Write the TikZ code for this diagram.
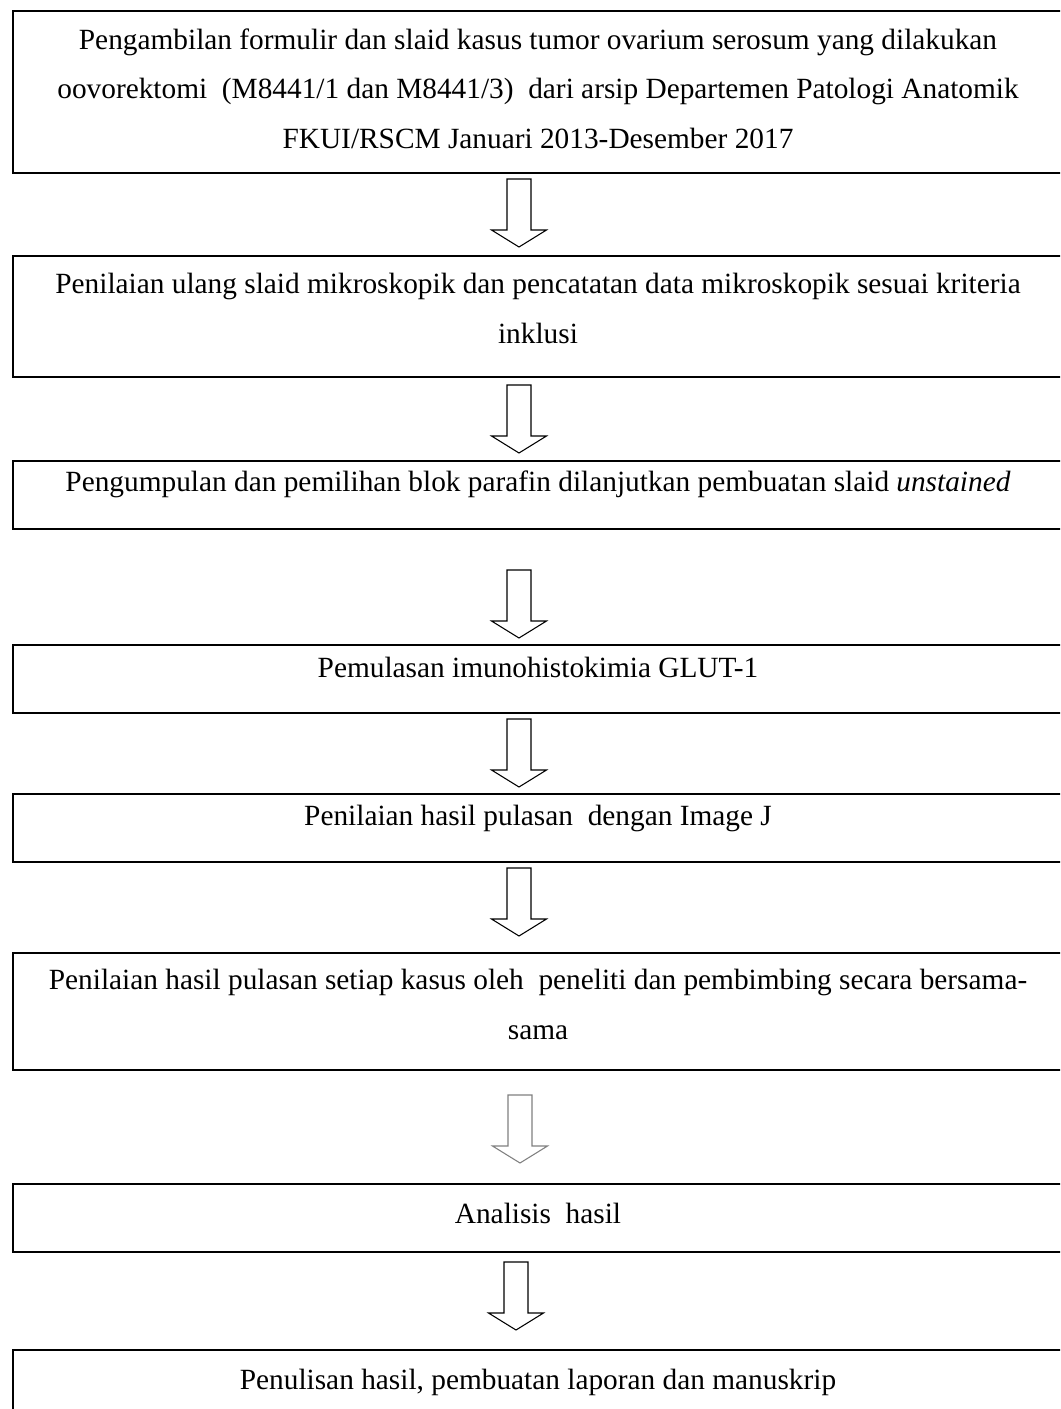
\documentclass[tikz,border=0pt]{standalone}
\usepackage{fontspec}
\setmainfont{Liberation Serif}
\begin{document}
\begin{tikzpicture}[x=0.75pt,y=-0.75pt,
  stepbox/.style={draw=black,line width=1.3pt,rectangle,inner sep=0pt,anchor=north west},
  steptext/.style={anchor=base,inner sep=0pt,font=\fontsize{22}{36}\selectfont},
  blockarrow/.style={draw=black,line width=0.8pt,fill=white}]
\useasboundingbox (0,0) rectangle (1060,1409);
\begin{scope}
\clip (0,0) rectangle (1060,1409);
% boxes
\node[stepbox,minimum width=1062*0.75pt,minimum height=162*0.75pt] (b1) at (12,10) {};
\node[stepbox,minimum width=1062*0.75pt,minimum height=121*0.75pt] (b2) at (12,255) {};
\node[stepbox,minimum width=1062*0.75pt,minimum height=68*0.75pt] (b3) at (12,460) {};
\node[stepbox,minimum width=1062*0.75pt,minimum height=68*0.75pt] (b4) at (12,644) {};
\node[stepbox,minimum width=1062*0.75pt,minimum height=68*0.75pt] (b5) at (12,793) {};
\node[stepbox,minimum width=1062*0.75pt,minimum height=117*0.75pt] (b6) at (12,952) {};
\node[stepbox,minimum width=1062*0.75pt,minimum height=68*0.75pt] (b7) at (12,1183) {};
\node[stepbox,minimum width=1062*0.75pt,minimum height=90*0.75pt] (b8) at (12,1349) {};
\end{scope}
% texts
\node[steptext] (t1a) at (538,50) {Pengambilan formulir dan slaid kasus tumor ovarium serosum yang dilakukan};
\node[steptext] (t1b) at (538,99) {oovorektomi \ (M8441/1 dan M8441/3) \ dari arsip Departemen Patologi Anatomik};
\node[steptext] (t1c) at (538,149) {FKUI/RSCM Januari 2013-Desember 2017};
\node[steptext] (t2a) at (538,293) {Penilaian ulang slaid mikroskopik dan pencatatan data mikroskopik sesuai kriteria};
\node[steptext] (t2b) at (538,343) {inklusi};
\node[steptext] (t3) at (538,491) {Pengumpulan dan pemilihan blok parafin dilanjutkan pembuatan slaid \textit{unstained}};
\node[steptext] (t4) at (538,677) {Pemulasan imunohistokimia GLUT-1};
\node[steptext] (t5) at (538,825) {Penilaian hasil pulasan \ dengan Image J};
\node[steptext] (t6a) at (538,989) {Penilaian hasil pulasan setiap kasus oleh \ peneliti dan pembimbing secara bersama-};
\node[steptext] (t6b) at (538,1039) {sama};
\node[steptext] (t7) at (538,1223) {Analisis \ hasil};
\node[steptext] (t8) at (538,1389) {Penulisan hasil, pembuatan laporan dan manuskrip};
% arrows
\newcommand\flowarrow[3]{%
  \draw[blockarrow,#3] (#1-12,#2) -- (#1+12,#2) -- (#1+12,#2+51) -- (#1+27.5,#2+51)
    -- (#1,#2+68) -- (#1-27.5,#2+51) -- (#1-12,#2+51) -- cycle;}
\flowarrow{519}{179}{}
\flowarrow{519}{385}{}
\flowarrow{519}{570}{}
\flowarrow{519}{719}{}
\flowarrow{519}{868}{}
\flowarrow{520}{1095}{draw=gray}
\flowarrow{516}{1262}{}
\end{tikzpicture}
\end{document}
